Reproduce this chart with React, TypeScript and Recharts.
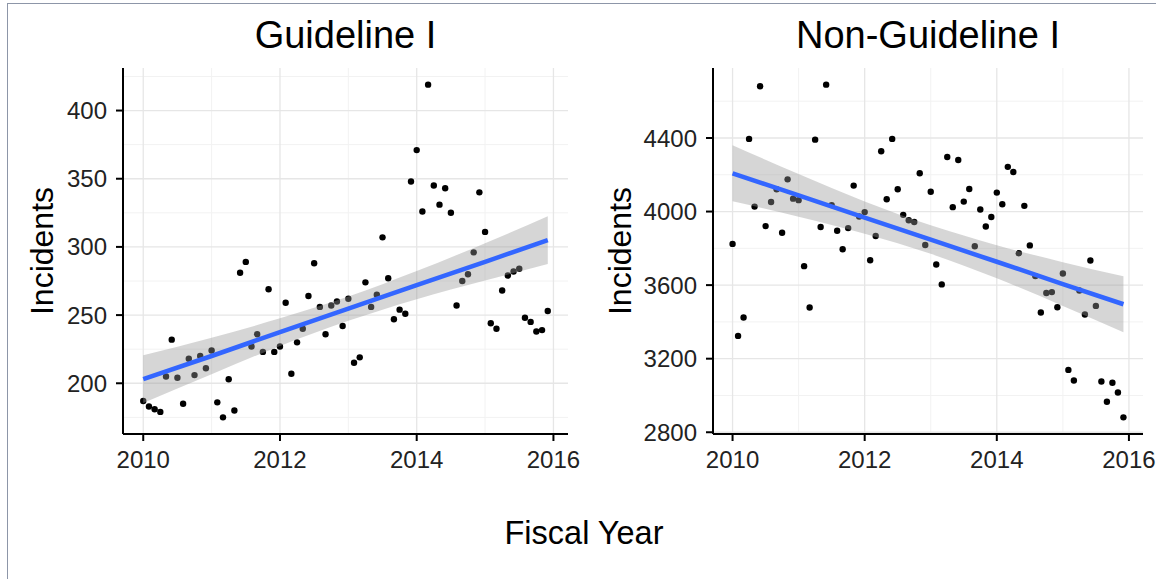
import {
  ComposedChart,
  Scatter,
  Line,
  Area,
  XAxis,
  YAxis,
  CartesianGrid,
} from 'recharts';

// monthly incident counts, fiscal years 2010 to 2015 (72 months)
const guidelineCounts = [
  187, 183, 181, 179, 205, 232, 204, 185, 218, 206, 220, 211,
  224, 186, 175, 203, 180, 281, 289, 227, 236, 223, 269, 223,
  227, 259, 207, 230, 240, 264, 288, 256, 236, 257, 260, 242,
  262, 215, 219, 274, 256, 265, 307, 277, 247, 254, 251, 348,
  371, 326, 419, 345, 331, 343, 325, 257, 275, 280, 296, 340,
  311, 244, 240, 268, 279, 282, 284, 248, 245, 238, 239, 253,
];

const nonGuidelineCounts = [
  3824, 3324, 3424, 4395, 4027, 4681, 3921, 4052, 4121, 3885, 4175, 4070,
  4062, 3703, 3478, 4391, 3916, 4690, 4035, 3896, 3795, 3910, 4141, 3973,
  3997, 3735, 3867, 4328, 4067, 4395, 4121, 3982, 3953, 3943, 4208, 3818,
  4108, 3712, 3604, 4297, 4024, 4280, 4054, 4123, 3811, 4011, 3919, 3970,
  4103, 4040, 4243, 4215, 3773, 4031, 3816, 3649, 3451, 3557, 3562, 3480,
  3663, 3139, 3081, 3571, 3440, 3734, 3487, 3076, 2966, 3069, 3016, 2881,
];

// smoother (lm) line and its confidence band
const fitYears = [2010, 2011, 2012, 2013, 2014, 2015, 2015.917];
const guidelineFit = [203, 220, 237.5, 254.7, 272, 289, 305];
const guidelineLow = [185.5, 206.6, 227.4, 245.8, 261.7, 275.3, 287.5];
const guidelineHigh = [220.5, 233.4, 247.6, 263.6, 282.3, 302.7, 322.5];
const nonGuidelineFit = [4208, 4088, 3967, 3847, 3727, 3606, 3496];
const nonGuidelineLow = [4056, 3972, 3879, 3770, 3637, 3487, 3344];
const nonGuidelineHigh = [4360, 4204, 4055, 3925, 3817, 3725, 3648];

const yearTicks = [2010, 2012, 2014, 2016];
const yearMinor = [2011, 2013, 2015];
const guidelineTicks = [200, 250, 300, 350, 400];
const guidelineMinor = [175, 225, 275, 325, 375, 425];
const nonGuidelineTicks = [2800, 3200, 3600, 4000, 4400];
const nonGuidelineMinor = [3000, 3400, 3800, 4200, 4600];

const FONT = '"Liberation Sans", Arial, Helvetica, sans-serif';
const X_DOMAIN = [2009.704, 2016.213];

const toPoints = (vals: number[]) => vals.map((y, i) => ({ x: 2010 + i / 12, y }));
const toFit = (fit: number[], lo: number[], hi: number[]) =>
  fitYears.map((x, i) => ({ x, fit: fit[i], lo: lo[i], hi: hi[i] }));

const Dot = (props: any) => <circle cx={props.cx} cy={props.cy} r={3.2} fill="#000" />;

interface PanelProps {
  left: number;
  width: number;
  yWidth: number;
  right: number;
  counts: number[];
  fit: { x: number; fit: number; lo: number; hi: number }[];
  yDomain: number[];
  yTicks: number[];
  yMinor: number[];
}

function Panel({ left, width, yWidth, right, counts, fit, yDomain, yTicks, yMinor }: PanelProps) {
  const points = toPoints(counts);
  const margin = { top: 68, right, bottom: 26, left: 0 };
  const tickStyle = { fontSize: 24, fill: '#222', fontFamily: FONT };
  const axisProps = {
    tickSize: 7,
    axisLine: { stroke: '#000', strokeWidth: 2 },
    tickLine: { stroke: '#000', strokeWidth: 2 },
  };
  return (
    <div style={{ position: 'absolute', left, top: 0 }}>
      {/* bottom layer: grid, axes and points */}
      <div style={{ position: 'absolute', left: 0, top: 0 }}>
        <ComposedChart width={width} height={500} margin={margin}>
          <CartesianGrid horizontalValues={yMinor} verticalValues={yearMinor} stroke="#f2f2f2" strokeWidth={1} />
          <CartesianGrid horizontalValues={yTicks} verticalValues={yearTicks} stroke="#e6e6e6" strokeWidth={1.3} />
          <XAxis
            dataKey="x"
            type="number"
            domain={X_DOMAIN}
            ticks={yearTicks}
            allowDataOverflow
            height={40}
            tick={tickStyle}
            tickMargin={10}
            {...axisProps}
          />
          <YAxis
            type="number"
            domain={yDomain}
            ticks={yTicks}
            allowDataOverflow
            width={yWidth}
            tick={tickStyle}
            tickMargin={9}
            {...axisProps}
          />
          <Scatter data={points} dataKey="y" shape={Dot} isAnimationActive={false} />
        </ComposedChart>
      </div>
      {/* top layer: confidence band over the points, then the fitted line */}
      <div style={{ position: 'absolute', left: 0, top: 0 }}>
        <ComposedChart width={width} height={500} margin={margin}>
          <XAxis
            dataKey="x"
            type="number"
            domain={X_DOMAIN}
            ticks={yearTicks}
            allowDataOverflow
            height={40}
            tick={false}
            axisLine={false}
            tickLine={false}
          />
          <YAxis
            type="number"
            domain={yDomain}
            ticks={yTicks}
            allowDataOverflow
            width={yWidth}
            tick={false}
            axisLine={false}
            tickLine={false}
          />
          <Area
            data={fit}
            dataKey={(d: any) => [d.lo, d.hi]}
            type="monotone"
            stroke="none"
            fill="#999999"
            fillOpacity={0.4}
            isAnimationActive={false}
          />
          <Line
            data={fit}
            dataKey="fit"
            type="linear"
            stroke="#3366FF"
            strokeWidth={4.5}
            dot={false}
            isAnimationActive={false}
          />
        </ComposedChart>
      </div>
    </div>
  );
}

export default function App() {
  return (
    <div
      style={{
        position: 'absolute',
        left: 0,
        top: 0,
        width: 1156,
        height: 579,
        background: '#fff',
        fontFamily: FONT,
        overflow: 'hidden',
      }}
    >
      {/* thin frame on top and left edges */}
      <div
        style={{
          position: 'absolute',
          left: 7,
          top: 3,
          right: 0,
          bottom: 0,
          borderTop: '1px solid #8d96a8',
          borderLeft: '1px solid #8d96a8',
        }}
      />
      <Panel
        left={0}
        width={600}
        yWidth={123}
        right={32}
        counts={guidelineCounts}
        fit={toFit(guidelineFit, guidelineLow, guidelineHigh)}
        yDomain={[162.8, 431.2]}
        yTicks={guidelineTicks}
        yMinor={guidelineMinor}
      />
      <Panel
        left={600}
        width={556}
        yWidth={113}
        right={13}
        counts={nonGuidelineCounts}
        fit={toFit(nonGuidelineFit, nonGuidelineLow, nonGuidelineHigh)}
        yDomain={[2790.5, 4780.5]}
        yTicks={nonGuidelineTicks}
        yMinor={nonGuidelineMinor}
      />
      <svg
        width={1156}
        height={579}
        style={{ position: 'absolute', left: 0, top: 0, pointerEvents: 'none' }}
        fontFamily={FONT}
      >
        <text x={345.5} y={48} fontSize={38} textAnchor="middle" fill="#000">
          Guideline I
        </text>
        <text x={928} y={48} fontSize={38} textAnchor="middle" fill="#000">
          Non-Guideline I
        </text>
        <text transform="translate(53,251) rotate(-90)" fontSize={32} textAnchor="middle" fill="#000">
          Incidents
        </text>
        <text transform="translate(631,251) rotate(-90)" fontSize={32} textAnchor="middle" fill="#000">
          Incidents
        </text>
        <text x={584} y={544} fontSize={32.5} textAnchor="middle" fill="#000">
          Fiscal Year
        </text>
      </svg>
    </div>
  );
}
